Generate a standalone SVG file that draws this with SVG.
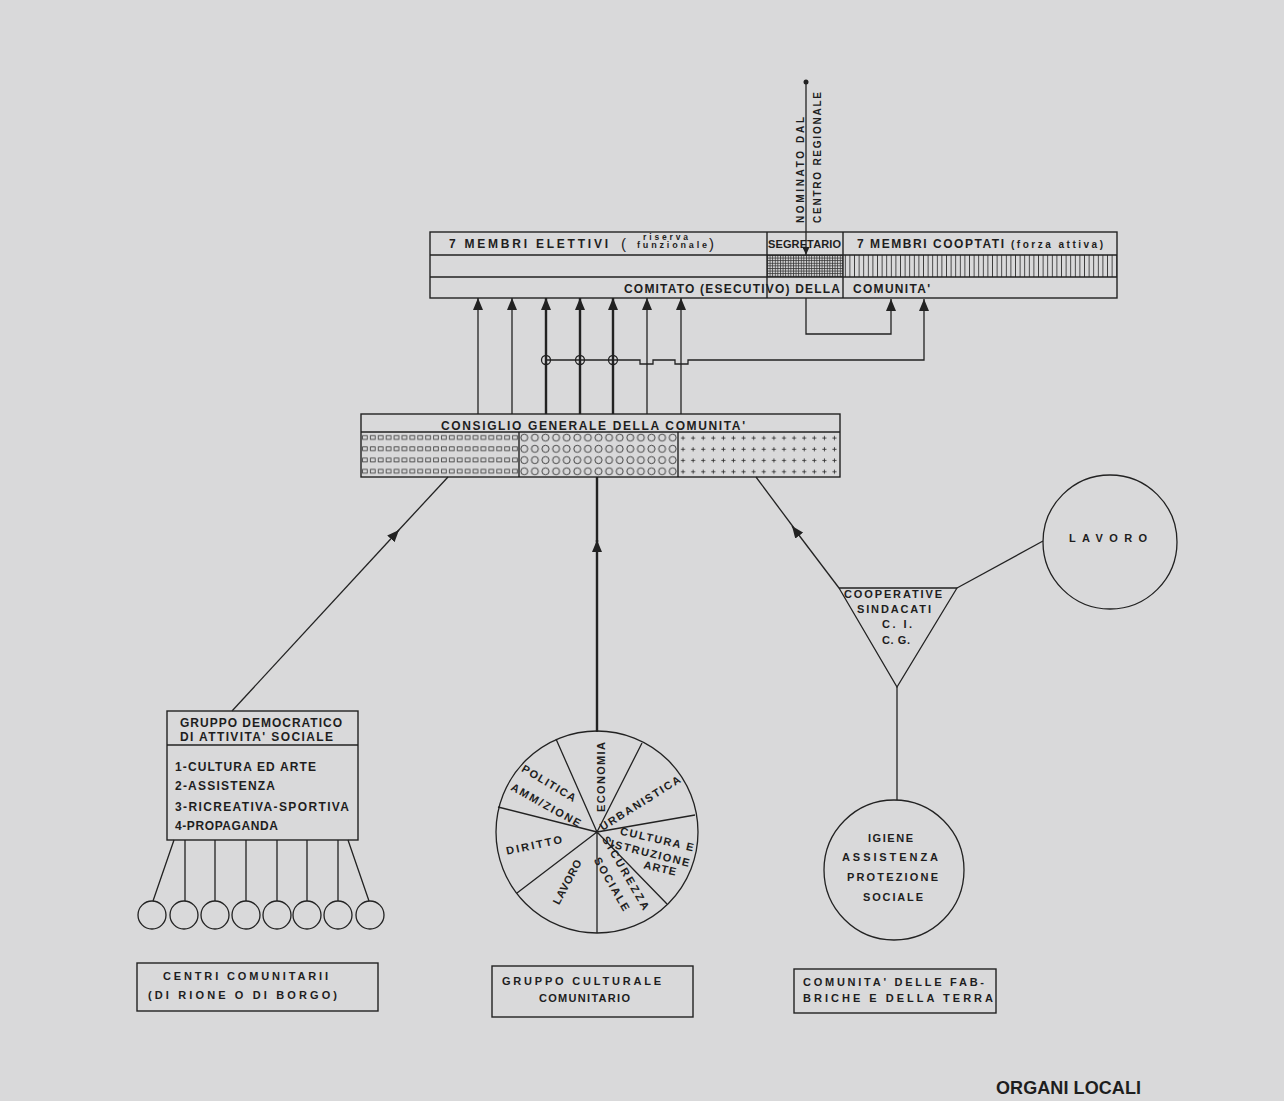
<svg xmlns="http://www.w3.org/2000/svg" width="1284" height="1101" viewBox="0 0 1284 1101">
<defs>
<style>
.ln{stroke:#222;stroke-width:1.3;fill:none}
.thk{stroke-width:2.4}
.bx{stroke:#222;stroke-width:1.4;fill:none}
.t{font-family:"Liberation Sans",Arial,sans-serif;font-weight:bold;fill:#1e1e1e;font-size:12px}
.s{font-size:10px}
.p{font-size:11px}
.m{text-anchor:middle}
</style>
<marker id="ah" markerUnits="userSpaceOnUse" markerWidth="12" markerHeight="10" viewBox="0 0 12 10" refX="12" refY="5" orient="auto"><path d="M0,0 L12,5 L0,10 z" fill="#222"/></marker>
<marker id="ahs" markerUnits="userSpaceOnUse" markerWidth="8" markerHeight="7" viewBox="0 0 8 7" refX="8" refY="3.5" orient="auto"><path d="M0,0 L8,3.5 L0,7 z" fill="#222"/></marker>
<pattern id="psq" patternUnits="userSpaceOnUse" x="361" y="432" width="7.9" height="11.25"><rect x="1.6" y="3.6" width="4.6" height="3.8" fill="none" stroke="#333" stroke-width="0.8"/></pattern>
<pattern id="pci" patternUnits="userSpaceOnUse" x="519" y="432" width="10.6" height="11.25"><circle cx="5.3" cy="5.6" r="3.5" fill="none" stroke="#333" stroke-width="0.9"/></pattern>
<pattern id="ppl" patternUnits="userSpaceOnUse" x="678" y="432" width="10.1" height="11.25"><path d="M5,4 V8 M3,6 H7" stroke="#333" stroke-width="0.9"/></pattern>
<pattern id="pxh" patternUnits="userSpaceOnUse" x="767" y="255" width="2.6" height="2.6"><path d="M0,0.5 H2.6 M0.5,0 V2.6" stroke="#333" stroke-width="0.8"/></pattern>
<pattern id="pvl" patternUnits="userSpaceOnUse" x="843" y="255" width="4.6" height="22"><path d="M2.3,0 V22" stroke="#333" stroke-width="0.9"/></pattern>
</defs>
<rect width="1284" height="1101" fill="#d9d9da"/>

<!-- Comitato node -->
<g id="comitato">
<rect x="767" y="255" width="76" height="22" fill="url(#pxh)"/>
<rect x="843" y="255" width="274" height="22" fill="url(#pvl)"/>
<rect class="bx" x="430" y="232" width="687" height="66"/>
<path class="bx" d="M430 255 H1117 M430 277 H1117 M767 232 V298 M843 232 V298"/>
<text class="t" x="449" y="248" textLength="159" lengthAdjust="spacing">7 MEMBRI ELETTIVI</text>
<text class="t" x="621" y="249" style="font-size:15px;font-weight:normal">(</text>
<text class="t" x="643" y="240" style="font-size:8.5px" textLength="45" lengthAdjust="spacing">riserva</text>
<text class="t" x="637" y="248" style="font-size:9px" textLength="70" lengthAdjust="spacing">funzionale</text>
<text class="t" x="709" y="249" style="font-size:15px;font-weight:normal">)</text>
<text class="t" x="768" y="248" style="font-size:11px" textLength="73" lengthAdjust="spacing">SEGRETARIO</text>
<text class="t" x="857" y="248" textLength="147" lengthAdjust="spacing">7 MEMBRI COOPTATI</text>
<text class="t" x="1011" y="248" style="font-size:10px" textLength="92" lengthAdjust="spacing">(forza attiva)</text>
<text class="t" x="624" y="293" textLength="216" lengthAdjust="spacing">COMITATO (ESECUTIVO) DELLA</text>
<text class="t" x="853" y="293" textLength="77" lengthAdjust="spacing">COMUNITA'</text>
</g>

<!-- Nominato -->
<g id="nominato">
<circle cx="806" cy="82" r="2.5" fill="#222"/>
<text class="t s" transform="translate(803.5,223) rotate(-90)" textLength="106" lengthAdjust="spacing">NOMINATO DAL</text>
<text class="t s" transform="translate(821,223) rotate(-90)" textLength="131" lengthAdjust="spacing">CENTRO REGIONALE</text>
</g>

<!-- Consiglio -->
<g id="consiglio">
<rect x="361" y="432" width="158" height="45" fill="url(#psq)"/>
<rect x="519" y="432" width="159" height="45" fill="url(#pci)"/>
<rect x="678" y="432" width="162" height="45" fill="url(#ppl)"/>
<rect class="bx" x="361" y="414" width="479" height="63"/>
<path class="bx" d="M361 432 H840 M519 432 V477 M678 432 V477"/>
<text class="t" x="441" y="430" textLength="304" lengthAdjust="spacing">CONSIGLIO GENERALE DELLA COMUNITA'</text>
</g>

<!-- Gruppo democratico -->
<g id="gruppo-democratico">
<rect class="bx" x="167" y="711" width="191" height="129"/>
<path class="bx" d="M167 745 H358"/>
<text class="t" x="180" y="727" textLength="162" lengthAdjust="spacing">GRUPPO DEMOCRATICO</text>
<text class="t" x="180" y="741" textLength="153" lengthAdjust="spacing">DI ATTIVITA' SOCIALE</text>
<text class="t" x="175" y="771" textLength="141" lengthAdjust="spacing">1-CULTURA ED ARTE</text>
<text class="t" x="175" y="790" textLength="100" lengthAdjust="spacing">2-ASSISTENZA</text>
<text class="t" x="175" y="811" textLength="174" lengthAdjust="spacing">3-RICREATIVA-SPORTIVA</text>
<text class="t" x="175" y="830" textLength="103" lengthAdjust="spacing">4-PROPAGANDA</text>
</g>

<!-- small circles -->
<g id="centri-circles" class="ln">
<circle cx="152" cy="915" r="14"/>
<circle cx="184" cy="915" r="14"/>
<circle cx="215" cy="915" r="14"/>
<circle cx="246" cy="915" r="14"/>
<circle cx="277" cy="915" r="14"/>
<circle cx="307" cy="915" r="14"/>
<circle cx="338" cy="915" r="14"/>
<circle cx="370" cy="915" r="14"/>
</g>

<!-- Pie -->
<g id="pie">
<circle class="ln" cx="597" cy="832" r="101"/>
<path class="ln" d="M597 832 L556 739 M597 832 L642 743 M597 832 L498 807 M597 832 L695 815 M597 832 L517 893 M597 832 L667 904 M597 832 L597 933"/>
<g class="t p">
<text class="m" transform="translate(601,777) rotate(-90)" y="4" textLength="70" lengthAdjust="spacing">ECONOMIA</text>
<text class="m" transform="translate(549,783) rotate(31)" y="4" textLength="61" lengthAdjust="spacing">POLITICA</text>
<text class="m" transform="translate(546,805) rotate(29)" y="4" textLength="78" lengthAdjust="spacing">AMM/ZIONE</text>
<text class="m" transform="translate(640,803) rotate(-32)" y="4" textLength="93" lengthAdjust="spacing">URBANISTICA</text>
<text class="m" transform="translate(657,839) rotate(13)" y="4" textLength="75" lengthAdjust="spacing">CULTURA E</text>
<text class="m" transform="translate(650,853) rotate(14)" y="4" textLength="81" lengthAdjust="spacing">ISTRUZIONE</text>
<text class="m" transform="translate(660,868) rotate(13)" y="4" textLength="33" lengthAdjust="spacing">ARTE</text>
<text class="m" transform="translate(626,873) rotate(60)" y="4" textLength="83" lengthAdjust="spacing">SICUREZZA</text>
<text class="m" transform="translate(612,884) rotate(60)" y="4" textLength="60" lengthAdjust="spacing">SOCIALE</text>
<text class="m" transform="translate(567,882) rotate(-62)" y="4" textLength="49" lengthAdjust="spacing">LAVORO</text>
<text class="m" transform="translate(534,845) rotate(-12)" y="4" textLength="57" lengthAdjust="spacing">DIRITTO</text>
</g>
</g>

<!-- Triangle -->
<g id="cooperative">
<path class="ln" d="M839 588 H957 L897 687 Z"/>
<text class="t p" x="844" y="598" textLength="98" lengthAdjust="spacing">COOPERATIVE</text>
<text class="t p" x="857" y="613" textLength="74" lengthAdjust="spacing">SINDACATI</text>
<text class="t p" x="882" y="628" textLength="30" lengthAdjust="spacing">C. I.</text>
<text class="t p" x="882" y="644" textLength="28" lengthAdjust="spacing">C. G.</text>
</g>

<!-- Lavoro circle -->
<g id="lavoro">
<circle class="ln" cx="1110" cy="542" r="67"/>
<text class="t p" x="1069" y="542" textLength="78" lengthAdjust="spacing">LAVORO</text>
</g>

<!-- Igiene circle -->
<g id="igiene">
<circle class="ln" cx="894" cy="870" r="70"/>
<text class="t p" x="868" y="842" textLength="45" lengthAdjust="spacing">IGIENE</text>
<text class="t p" x="842" y="861" textLength="96" lengthAdjust="spacing">ASSISTENZA</text>
<text class="t p" x="847" y="881" textLength="91" lengthAdjust="spacing">PROTEZIONE</text>
<text class="t p" x="863" y="901" textLength="60" lengthAdjust="spacing">SOCIALE</text>
</g>

<!-- bottom boxes -->
<g id="centri">
<rect class="bx" x="137" y="963" width="241" height="48"/>
<text class="t p" x="163" y="980" textLength="165" lengthAdjust="spacing">CENTRI COMUNITARII</text>
<text class="t p" x="148" y="999" textLength="189" lengthAdjust="spacing">(DI RIONE O DI BORGO)</text>
</g>
<g id="gruppo-culturale">
<rect class="bx" x="492" y="966" width="201" height="51"/>
<text class="t p" x="502" y="985" textLength="159" lengthAdjust="spacing">GRUPPO CULTURALE</text>
<text class="t p" x="539" y="1002" textLength="91" lengthAdjust="spacing">COMUNITARIO</text>
</g>
<g id="comunita-fabbriche">
<rect class="bx" x="794" y="969" width="202" height="44"/>
<text class="t p" x="803" y="986" textLength="181" lengthAdjust="spacing">COMUNITA' DELLE FAB-</text>
<text class="t p" x="803" y="1002" textLength="190" lengthAdjust="spacing">BRICHE E DELLA TERRA</text>
</g>

<text id="titolo" class="t" x="996" y="1094" style="font-size:18px" textLength="145" lengthAdjust="spacing">ORGANI LOCALI</text>

<!-- connectors -->
<g id="connectors">
<path class="ln" d="M806 84 V255" marker-end="url(#ahs)"/>
<path class="ln" d="M478 414 V298" marker-end="url(#ah)"/>
<path class="ln" d="M512 414 V298" marker-end="url(#ah)"/>
<path class="ln thk" d="M546 414 V298" marker-end="url(#ah)"/>
<path class="ln thk" d="M580 414 V298" marker-end="url(#ah)"/>
<path class="ln thk" d="M613 414 V298" marker-end="url(#ah)"/>
<path class="ln" d="M647 414 V298" marker-end="url(#ah)"/>
<path class="ln" d="M681 414 V298" marker-end="url(#ah)"/>
<path class="ln" d="M546 360 H640 V364 H653 V360 H675 V364 H688 V360 H924 V299" marker-end="url(#ah)"/>
<circle class="ln" cx="546" cy="360" r="4.5" fill="#d9d9da"/>
<circle class="ln" cx="580" cy="360" r="4.5" fill="#d9d9da"/>
<circle class="ln" cx="613" cy="360" r="4.5" fill="#d9d9da"/>
<path class="ln" d="M546 355 V365 M580 355 V365 M613 355 V365"/>
<path class="ln" d="M806 298 V334 H891 V299" marker-end="url(#ah)"/>
<path class="ln" d="M232 711 L399 530" marker-end="url(#ah)"/>
<path class="ln" d="M397 532 L448 477"/>
<path class="ln thk" d="M597 732 V540" marker-end="url(#ah)"/>
<path class="ln thk" d="M597 542 V477"/>
<path class="ln" d="M839 588 L792 526" marker-end="url(#ah)"/>
<path class="ln" d="M794 528 L756 477"/>
<path class="ln" d="M957 588 L1043 541"/>
<path class="ln" d="M897 687 V800"/>
<path class="ln" d="M174 840 L153 901 M185 840 V901 M215 840 V901 M246 840 V901 M277 840 V901 M307 840 V901 M338 840 V901 M348 840 L369 901"/>
</g>
</svg>
